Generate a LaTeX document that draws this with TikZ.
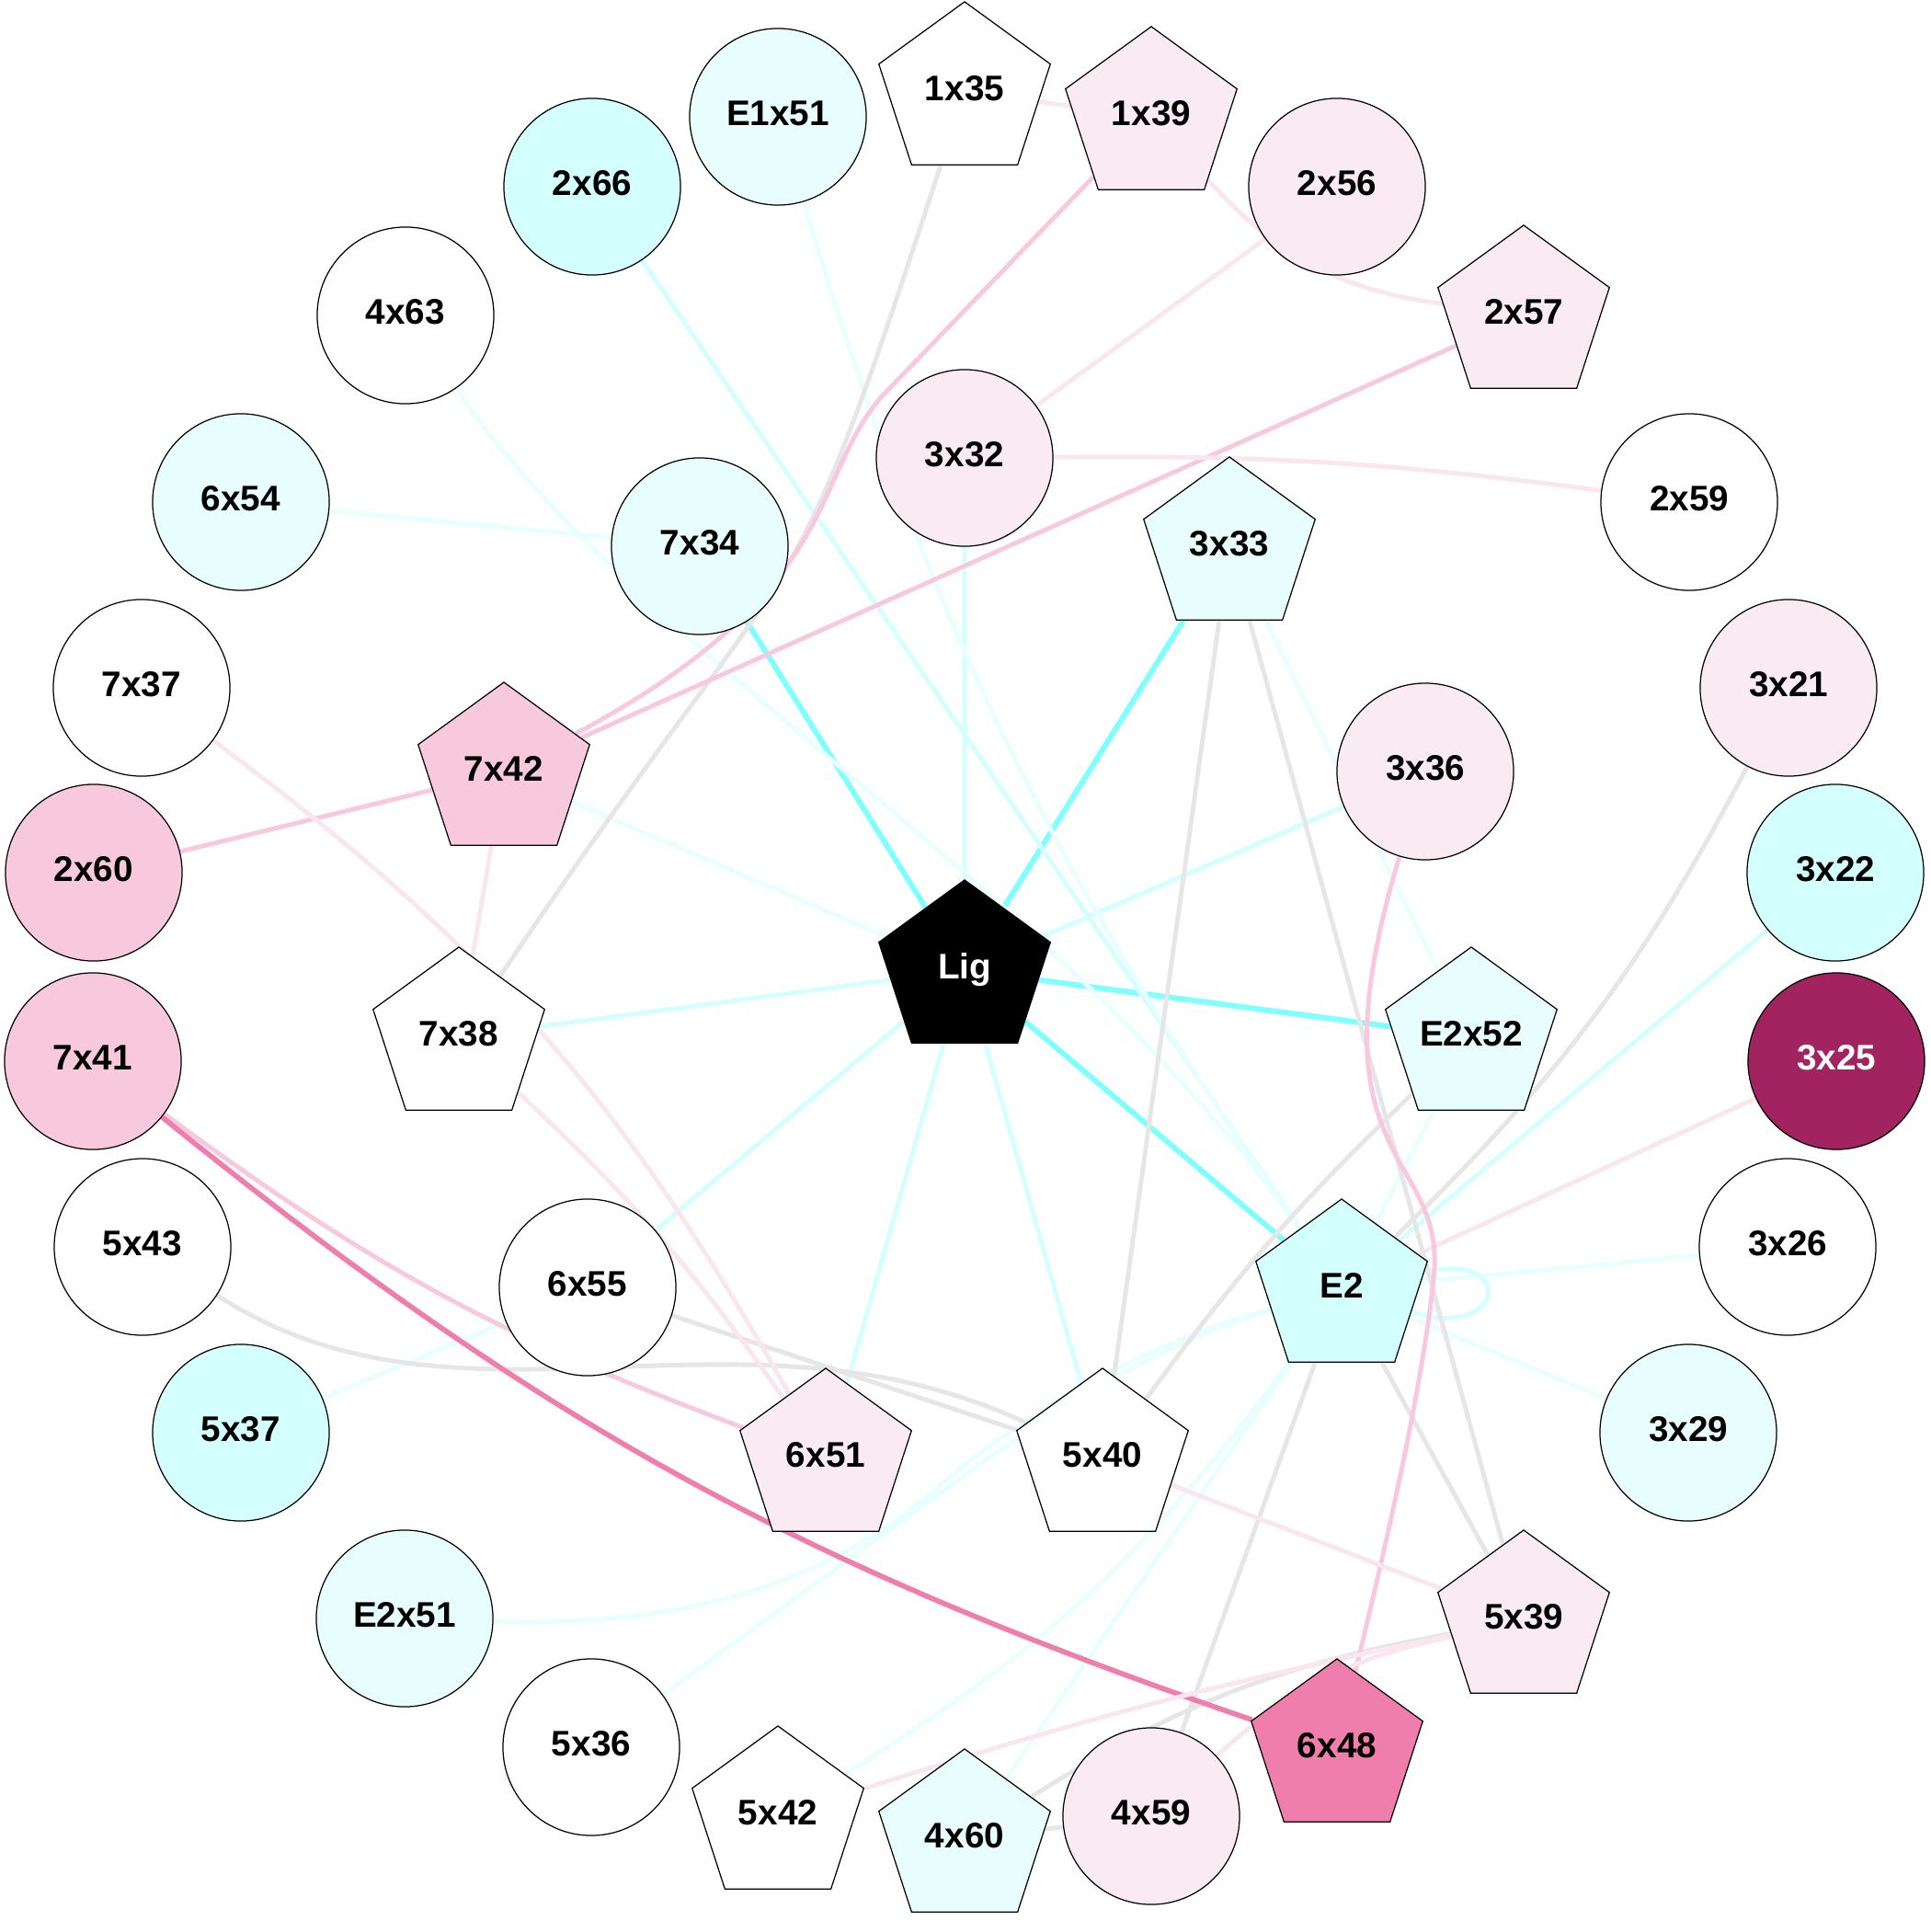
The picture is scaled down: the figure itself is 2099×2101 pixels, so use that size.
\documentclass[tikz,border=0pt]{standalone}
\usepackage{fontspec}
\setsansfont{Liberation Sans}
\usetikzlibrary{shapes.geometric}

\definecolor{cyHi}{RGB}{212,255,255}
\definecolor{cyLo}{RGB}{232,254,254}
\definecolor{pkLo}{RGB}{250,235,242}
\definecolor{pkMid}{RGB}{248,200,221}
\definecolor{pkHi}{RGB}{240,126,172}
\definecolor{pkDark}{RGB}{161,35,95}
\definecolor{lnCyHi}{RGB}{128,255,255}
\definecolor{lnCy}{RGB}{212,255,255}
\definecolor{lnCyLo}{RGB}{232,255,255}
\definecolor{lnGray}{RGB}{230,230,230}
\definecolor{lnPk}{RGB}{248,200,220}
\definecolor{lnPkLo}{RGB}{250,230,239}
\definecolor{lnPkHi}{RGB}{240,126,172}

\pgfdeclarelayer{edges}
\pgfsetlayers{edges,main}

\begin{document}
\begin{tikzpicture}[x=0.01cm,y=-0.01cm,every loop/.style={}]
  \tikzstyle{res}=[circle,draw=black,line width=0.35pt,fill=white,minimum size=1.92cm,inner sep=0pt,text height=8pt,text depth=2.4pt,font=\sffamily\bfseries\fontsize{11}{13}\selectfont]
  \tikzstyle{pent}=[res,regular polygon,regular polygon sides=5,minimum size=1.96cm]
  \tikzstyle{eCyHi}=[draw=lnCyHi,line width=1.7pt]
  \tikzstyle{eCy}=[draw=lnCy,line width=1.4pt]
  \tikzstyle{eCyLo}=[draw=lnCyLo,line width=1.4pt]
  \tikzstyle{eGray}=[draw=lnGray,line width=1.4pt]
  \tikzstyle{ePk}=[draw=lnPk,line width=1.4pt]
  \tikzstyle{ePkLo}=[draw=lnPkLo,line width=1.4pt]
  \tikzstyle{ePkHi}=[draw=lnPkHi,line width=1.6pt]

  \useasboundingbox (0,0) rectangle (2099,2101);

  % ligand
  \node[pent,fill=black,text=white] (N-Lig) at (1049,1055) {Lig};

  % inner ring
  \node[res,fill=pkLo]   (N-3x32)  at (1049,498)  {3x32};
  \node[pent,fill=cyLo]  (N-3x33)  at (1337,595)  {3x33};
  \node[res,fill=pkLo]   (N-3x36)  at (1550,839)  {3x36};
  \node[pent,fill=cyLo]  (N-E2x52) at (1600,1128) {E2x52};
  \node[pent,fill=cyHi]  (N-E2)    at (1459,1402) {E2};
  \node[pent]            (N-5x40)  at (1199,1586) {5x40};
  \node[pent,fill=pkLo]  (N-6x51)  at (898,1586)  {6x51};
  \node[res]             (N-6x55)  at (639,1400)  {6x55};
  \node[pent]            (N-7x38)  at (499,1128)  {7x38};
  \node[pent,fill=pkMid] (N-7x42)  at (548,840)   {7x42};
  \node[res,fill=cyLo]   (N-7x34)  at (761,594)   {7x34};

  % outer ring
  \node[pent]            (N-1x35)  at (1049,100)  {1x35};
  \node[pent,fill=pkLo]  (N-1x39)  at (1252,127)  {1x39};
  \node[res,fill=pkLo]   (N-2x56)  at (1454,203)  {2x56};
  \node[pent,fill=pkLo]  (N-2x57)  at (1657,343)  {2x57};
  \node[res]             (N-2x59)  at (1837,546)  {2x59};
  \node[res,fill=pkLo]   (N-3x21)  at (1945,748)  {3x21};
  \node[res,fill=cyHi]   (N-3x22)  at (1996,949)  {3x22};
  \node[res,fill=pkDark,text=white] (N-3x25) at (1997,1154) {3x25};
  \node[res]             (N-3x26)  at (1944,1356) {3x26};
  \node[res,fill=cyLo]   (N-3x29)  at (1836,1558) {3x29};
  \node[pent,fill=pkLo]  (N-5x39)  at (1657,1762) {5x39};
  \node[pent,fill=pkHi]  (N-6x48)  at (1454,1902) {6x48};
  \node[res,fill=pkLo]   (N-4x59)  at (1252,1975) {4x59};
  \node[pent,fill=cyLo]  (N-4x60)  at (1049,2000) {4x60};
  \node[pent]            (N-5x42)  at (846,1975)  {5x42};
  \node[res]             (N-5x36)  at (643,1900)  {5x36};
  \node[res,fill=cyLo]   (N-E2x51) at (440,1760)  {E2x51};
  \node[res,fill=cyHi]   (N-5x37)  at (262,1558)  {5x37};
  \node[res]             (N-5x43)  at (155,1356)  {5x43};
  \node[res,fill=pkMid]  (N-7x41)  at (101,1154)  {7x41};
  \node[res,fill=pkMid]  (N-2x60)  at (102,949)   {2x60};
  \node[res]             (N-7x37)  at (154,748)   {7x37};
  \node[res,fill=cyLo]   (N-6x54)  at (262,546)   {6x54};
  \node[res]             (N-4x63)  at (441,343)   {4x63};
  \node[res,fill=cyHi]   (N-2x66)  at (644,203)   {2x66};
  \node[res,fill=cyLo]   (N-E1x51) at (846,127)   {E1x51};

  \begin{pgfonlayer}{edges}
    % ligand contacts
    \foreach \n in {7x34,3x33,E2x52,E2}
      \draw[eCyHi] (N-Lig) -- (N-\n);
    \foreach \n in {3x32,3x36,7x38,6x55,6x51,5x40}
      \draw[eCy] (N-Lig) -- (N-\n);
    \draw[eCyLo] (N-Lig) -- (N-7x42);

    % E2 contacts
    \foreach \n in {2x66,3x22}
      \draw[eCy] (N-E2) -- (N-\n);
    \foreach \n in {E2x52,3x26,3x29,4x60}
      \draw[eCyLo] (N-E2) -- (N-\n);
    \draw[eCy] (N-E2) to[loop,out=12,in=-18,min distance=1.05cm] (N-E2);
    \draw[eCyLo] (N-E1x51) to[bend right=9] (N-E2);
    \draw[eCyLo] (N-4x63) .. controls (700,720) and (1150,960) .. (N-E2);
    \draw[eCyLo] (N-5x42) to[bend right=11] (N-E2);
    \draw[eCyLo] (N-E2x51) .. controls (750,1770) and (900,1720) .. (1017,1620)
      .. controls (1120,1530) and (1250,1460) .. (N-E2);
    \draw[eCyLo] (N-5x36) -- (1030,1618) .. controls (1130,1545) and (1255,1462) .. (N-E2);
    \draw[ePkLo] (N-3x25) -- (N-E2);
    \draw[eGray] (N-3x21) to[bend left=9] (N-E2);
    \draw[eGray] (N-E2) -- (N-5x39);
    \draw[eGray] (N-E2) -- (N-4x59);

    % the rest
    \draw[eCyLo] (N-6x54) -- (N-7x34);
    \draw[eCyLo] (N-5x37) -- (N-6x55);
    \draw[eCyLo] (N-3x33) -- (N-E2x52);
    \draw[eGray] (N-3x33) -- (N-5x40);
    \draw[eGray] (N-3x33) -- (N-5x39);
    \draw[eGray] (N-E2x52) to[bend right=5] (N-5x40);
    \draw[eGray] (N-6x55) -- (N-5x40);
    \draw[eGray] (N-5x43) .. controls (500,1580) and (800,1400) .. (N-5x40);
    \draw[eGray] (N-1x35) .. controls (847,719) and (888,551) .. (N-7x38);
    \draw[eGray] (N-5x39) to[bend right=11] (N-4x60);
    \draw[eGray] (N-4x60) -- (N-4x59);
    \draw[ePk] (N-1x39) -- (960,430) .. controls (880,520) and (920,640) .. (N-7x42);
    \draw[ePk] (N-2x57) -- (N-7x42);
    \draw[ePk] (N-2x60) -- (N-7x42);
    \draw[ePk] (N-7x41) to[bend right=8] (N-6x51);
    \draw[ePk] (N-3x36) .. controls (1419,1271) and (1575,1250) .. (1559,1390)
      .. controls (1545,1530) and (1490,1750) .. (N-6x48);
    \draw[ePkHi] (N-7x41) to[bend right=10] (N-6x48);
    \draw[ePkLo] (N-1x35) -- (N-1x39);
    \draw[ePkLo] (N-1x39) to[bend right=20] (N-2x57);
    \draw[ePkLo] (N-2x56) -- (N-3x32);
    \draw[ePkLo] (N-3x32) to[bend left=4] (N-2x59);
    \draw[ePkLo] (N-7x42) -- (N-7x38);
    \draw[ePkLo] (N-7x37) to[bend left=12] (N-6x51);
    \draw[ePkLo] (N-7x38) to[bend left=6] (N-6x51);
    \draw[ePkLo] (N-5x40) -- (N-5x39);
    \draw[ePkLo] (N-5x39) to[bend right=3] (N-5x42);
    \draw[ePkLo] (N-4x59) to[bend left=15] (N-5x39);
  \end{pgfonlayer}
\end{tikzpicture}
\end{document}
